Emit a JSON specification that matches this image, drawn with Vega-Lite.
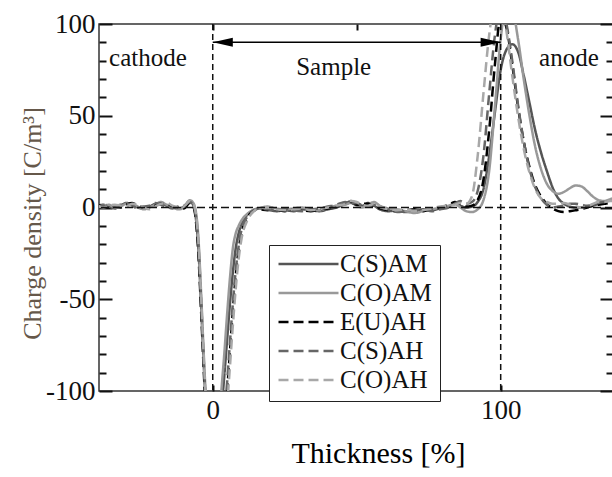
{
  "$schema": "https://vega.github.io/schema/vega-lite/v6.json",
  "width": 514,
  "height": 367,
  "autosize": {"type": "none"},
  "padding": {"left": 99, "top": 24, "right": 0, "bottom": 86},
  "background": "white",
  "config": {
    "view": {"stroke": "#333", "strokeWidth": 1.5},
    "axis": {"labelFont": "Liberation Serif", "titleFont": "Liberation Serif", "grid": false, "domain": false, "tickColor": "#111", "tickWidth": 2, "labelFontSize": 27, "labelColor": "#111", "titleFontWeight": "normal"}
  },
  "resolve": {"axis": {"x": "independent", "y": "independent"}},
  "layer": [
    {
      "data": {"values": [
{"s":"C(S)AM","x":-40,"y":1},{"s":"C(S)AM","x":-38,"y":1.5},{"s":"C(S)AM","x":-36,"y":0.5},{"s":"C(S)AM","x":-34,"y":-0.5},{"s":"C(S)AM","x":-32,"y":1},{"s":"C(S)AM","x":-30,"y":2.5},{"s":"C(S)AM","x":-28,"y":1.5},{"s":"C(S)AM","x":-26,"y":0},{"s":"C(S)AM","x":-24,"y":-0.5},{"s":"C(S)AM","x":-22,"y":0.5},{"s":"C(S)AM","x":-20,"y":2},{"s":"C(S)AM","x":-18,"y":2.5},{"s":"C(S)AM","x":-16,"y":1},{"s":"C(S)AM","x":-14,"y":0},{"s":"C(S)AM","x":-12,"y":-0.5},{"s":"C(S)AM","x":-10,"y":0.5},{"s":"C(S)AM","x":-8,"y":3.5},{"s":"C(S)AM","x":-7,"y":2},{"s":"C(S)AM","x":-6,"y":-4},{"s":"C(S)AM","x":-5,"y":-22},{"s":"C(S)AM","x":-4,"y":-55},{"s":"C(S)AM","x":-3,"y":-90},{"s":"C(S)AM","x":-2,"y":-120},{"s":"C(S)AM","x":-1,"y":-150},{"s":"C(S)AM","x":0,"y":-150},{"s":"C(S)AM","x":1,"y":-150},{"s":"C(S)AM","x":2,"y":-140},{"s":"C(S)AM","x":3,"y":-112},{"s":"C(S)AM","x":4,"y":-92},{"s":"C(S)AM","x":5,"y":-72},{"s":"C(S)AM","x":6,"y":-52},{"s":"C(S)AM","x":7,"y":-35},{"s":"C(S)AM","x":8,"y":-22},{"s":"C(S)AM","x":9,"y":-14},{"s":"C(S)AM","x":10,"y":-9},{"s":"C(S)AM","x":12,"y":-4},{"s":"C(S)AM","x":14,"y":-1.5},{"s":"C(S)AM","x":16,"y":-0.5},{"s":"C(S)AM","x":19,"y":-1},{"s":"C(S)AM","x":22,"y":-2},{"s":"C(S)AM","x":25,"y":-1.5},{"s":"C(S)AM","x":28,"y":-2},{"s":"C(S)AM","x":31,"y":-1},{"s":"C(S)AM","x":34,"y":-1.5},{"s":"C(S)AM","x":37,"y":-2},{"s":"C(S)AM","x":40,"y":-1},{"s":"C(S)AM","x":43,"y":0},{"s":"C(S)AM","x":46,"y":2},{"s":"C(S)AM","x":48,"y":3.5},{"s":"C(S)AM","x":50,"y":2},{"s":"C(S)AM","x":52,"y":1},{"s":"C(S)AM","x":54,"y":2.5},{"s":"C(S)AM","x":56,"y":1},{"s":"C(S)AM","x":58,"y":-1},{"s":"C(S)AM","x":61,"y":-2},{"s":"C(S)AM","x":64,"y":-1.5},{"s":"C(S)AM","x":67,"y":-2.5},{"s":"C(S)AM","x":70,"y":-2},{"s":"C(S)AM","x":73,"y":-1},{"s":"C(S)AM","x":76,"y":-1.5},{"s":"C(S)AM","x":79,"y":-0.5},{"s":"C(S)AM","x":82,"y":0.5},{"s":"C(S)AM","x":84,"y":2.5},{"s":"C(S)AM","x":86,"y":1},{"s":"C(S)AM","x":88,"y":0},{"s":"C(S)AM","x":90,"y":0.5},{"s":"C(S)AM","x":92,"y":3},{"s":"C(S)AM","x":94,"y":10},{"s":"C(S)AM","x":96,"y":28},{"s":"C(S)AM","x":98,"y":52},{"s":"C(S)AM","x":100,"y":75},{"s":"C(S)AM","x":102,"y":86},{"s":"C(S)AM","x":104,"y":89},{"s":"C(S)AM","x":106,"y":85},{"s":"C(S)AM","x":108,"y":72},{"s":"C(S)AM","x":110,"y":57},{"s":"C(S)AM","x":112,"y":42},{"s":"C(S)AM","x":114,"y":30},{"s":"C(S)AM","x":116,"y":20},{"s":"C(S)AM","x":118,"y":11},{"s":"C(S)AM","x":120,"y":5},{"s":"C(S)AM","x":122,"y":2},{"s":"C(S)AM","x":124,"y":0.5},{"s":"C(S)AM","x":126,"y":0},{"s":"C(S)AM","x":128,"y":0},{"s":"C(S)AM","x":130,"y":0.5},{"s":"C(S)AM","x":132,"y":1},{"s":"C(S)AM","x":134,"y":2},{"s":"C(S)AM","x":136,"y":3},{"s":"C(S)AM","x":138,"y":4},{"s":"C(S)AM","x":139,"y":4},
{"s":"C(O)AM","x":-40,"y":0.5},{"s":"C(O)AM","x":-38,"y":1},{"s":"C(O)AM","x":-36,"y":1.5},{"s":"C(O)AM","x":-34,"y":0},{"s":"C(O)AM","x":-32,"y":0.5},{"s":"C(O)AM","x":-30,"y":2},{"s":"C(O)AM","x":-28,"y":2},{"s":"C(O)AM","x":-26,"y":0.5},{"s":"C(O)AM","x":-24,"y":-1},{"s":"C(O)AM","x":-22,"y":0},{"s":"C(O)AM","x":-20,"y":1.5},{"s":"C(O)AM","x":-18,"y":3},{"s":"C(O)AM","x":-16,"y":1.5},{"s":"C(O)AM","x":-14,"y":0.5},{"s":"C(O)AM","x":-12,"y":-1},{"s":"C(O)AM","x":-10,"y":0},{"s":"C(O)AM","x":-8,"y":4},{"s":"C(O)AM","x":-7,"y":3},{"s":"C(O)AM","x":-6,"y":-1},{"s":"C(O)AM","x":-5,"y":-16},{"s":"C(O)AM","x":-4,"y":-48},{"s":"C(O)AM","x":-3,"y":-84},{"s":"C(O)AM","x":-2,"y":-115},{"s":"C(O)AM","x":-1,"y":-148},{"s":"C(O)AM","x":0,"y":-150},{"s":"C(O)AM","x":1,"y":-150},{"s":"C(O)AM","x":2,"y":-125},{"s":"C(O)AM","x":3,"y":-100},{"s":"C(O)AM","x":4,"y":-80},{"s":"C(O)AM","x":5,"y":-58},{"s":"C(O)AM","x":6,"y":-38},{"s":"C(O)AM","x":7,"y":-22},{"s":"C(O)AM","x":8,"y":-14},{"s":"C(O)AM","x":9,"y":-10},{"s":"C(O)AM","x":10,"y":-7},{"s":"C(O)AM","x":12,"y":-3.5},{"s":"C(O)AM","x":14,"y":-1.5},{"s":"C(O)AM","x":16,"y":-0.5},{"s":"C(O)AM","x":19,"y":0.5},{"s":"C(O)AM","x":22,"y":-0.5},{"s":"C(O)AM","x":25,"y":-1},{"s":"C(O)AM","x":28,"y":-0.5},{"s":"C(O)AM","x":31,"y":0},{"s":"C(O)AM","x":34,"y":-1},{"s":"C(O)AM","x":37,"y":-1.5},{"s":"C(O)AM","x":40,"y":0},{"s":"C(O)AM","x":43,"y":1},{"s":"C(O)AM","x":46,"y":1.5},{"s":"C(O)AM","x":48,"y":2.5},{"s":"C(O)AM","x":50,"y":1},{"s":"C(O)AM","x":52,"y":0},{"s":"C(O)AM","x":54,"y":1.5},{"s":"C(O)AM","x":56,"y":3},{"s":"C(O)AM","x":58,"y":1},{"s":"C(O)AM","x":61,"y":-0.5},{"s":"C(O)AM","x":64,"y":-1},{"s":"C(O)AM","x":67,"y":-2},{"s":"C(O)AM","x":70,"y":-3},{"s":"C(O)AM","x":73,"y":-2},{"s":"C(O)AM","x":76,"y":-1},{"s":"C(O)AM","x":79,"y":0},{"s":"C(O)AM","x":82,"y":1},{"s":"C(O)AM","x":84,"y":2},{"s":"C(O)AM","x":86,"y":0},{"s":"C(O)AM","x":88,"y":-2},{"s":"C(O)AM","x":90,"y":-2.5},{"s":"C(O)AM","x":92,"y":-1},{"s":"C(O)AM","x":94,"y":4},{"s":"C(O)AM","x":96,"y":20},{"s":"C(O)AM","x":98,"y":55},{"s":"C(O)AM","x":100,"y":92},{"s":"C(O)AM","x":102,"y":110},{"s":"C(O)AM","x":104,"y":108},{"s":"C(O)AM","x":106,"y":92},{"s":"C(O)AM","x":108,"y":70},{"s":"C(O)AM","x":110,"y":50},{"s":"C(O)AM","x":112,"y":33},{"s":"C(O)AM","x":114,"y":21},{"s":"C(O)AM","x":116,"y":13},{"s":"C(O)AM","x":118,"y":9},{"s":"C(O)AM","x":120,"y":7.5},{"s":"C(O)AM","x":122,"y":8.5},{"s":"C(O)AM","x":124,"y":10.5},{"s":"C(O)AM","x":126,"y":12},{"s":"C(O)AM","x":128,"y":11.5},{"s":"C(O)AM","x":130,"y":9},{"s":"C(O)AM","x":132,"y":6},{"s":"C(O)AM","x":134,"y":4},{"s":"C(O)AM","x":136,"y":3.5},{"s":"C(O)AM","x":138,"y":4.5},{"s":"C(O)AM","x":139,"y":5},
{"s":"E(U)AH","x":-40,"y":1.5},{"s":"E(U)AH","x":-38,"y":0.5},{"s":"E(U)AH","x":-36,"y":1},{"s":"E(U)AH","x":-34,"y":1},{"s":"E(U)AH","x":-32,"y":0},{"s":"E(U)AH","x":-30,"y":1.5},{"s":"E(U)AH","x":-28,"y":2.5},{"s":"E(U)AH","x":-26,"y":1},{"s":"E(U)AH","x":-24,"y":0},{"s":"E(U)AH","x":-22,"y":-0.5},{"s":"E(U)AH","x":-20,"y":1},{"s":"E(U)AH","x":-18,"y":2},{"s":"E(U)AH","x":-16,"y":2},{"s":"E(U)AH","x":-14,"y":0.5},{"s":"E(U)AH","x":-12,"y":0},{"s":"E(U)AH","x":-10,"y":-0.5},{"s":"E(U)AH","x":-8,"y":2.5},{"s":"E(U)AH","x":-7,"y":1.5},{"s":"E(U)AH","x":-6,"y":-5},{"s":"E(U)AH","x":-5,"y":-25},{"s":"E(U)AH","x":-4,"y":-58},{"s":"E(U)AH","x":-3,"y":-93},{"s":"E(U)AH","x":-2,"y":-125},{"s":"E(U)AH","x":-1,"y":-150},{"s":"E(U)AH","x":0,"y":-150},{"s":"E(U)AH","x":1,"y":-150},{"s":"E(U)AH","x":2,"y":-150},{"s":"E(U)AH","x":3,"y":-140},{"s":"E(U)AH","x":4,"y":-120},{"s":"E(U)AH","x":5,"y":-100},{"s":"E(U)AH","x":6,"y":-78},{"s":"E(U)AH","x":7,"y":-56},{"s":"E(U)AH","x":8,"y":-37},{"s":"E(U)AH","x":9,"y":-23},{"s":"E(U)AH","x":10,"y":-14},{"s":"E(U)AH","x":12,"y":-5.5},{"s":"E(U)AH","x":14,"y":-2},{"s":"E(U)AH","x":16,"y":-1},{"s":"E(U)AH","x":19,"y":-1.5},{"s":"E(U)AH","x":22,"y":-1},{"s":"E(U)AH","x":25,"y":-2},{"s":"E(U)AH","x":28,"y":-1},{"s":"E(U)AH","x":31,"y":-1.5},{"s":"E(U)AH","x":34,"y":-2},{"s":"E(U)AH","x":37,"y":-1},{"s":"E(U)AH","x":40,"y":-0.5},{"s":"E(U)AH","x":43,"y":0.5},{"s":"E(U)AH","x":46,"y":2.5},{"s":"E(U)AH","x":48,"y":3},{"s":"E(U)AH","x":50,"y":1.5},{"s":"E(U)AH","x":52,"y":2},{"s":"E(U)AH","x":54,"y":2},{"s":"E(U)AH","x":56,"y":0.5},{"s":"E(U)AH","x":58,"y":-0.5},{"s":"E(U)AH","x":61,"y":-1.5},{"s":"E(U)AH","x":64,"y":-2},{"s":"E(U)AH","x":67,"y":-1.5},{"s":"E(U)AH","x":70,"y":-1},{"s":"E(U)AH","x":73,"y":-2},{"s":"E(U)AH","x":76,"y":-1},{"s":"E(U)AH","x":79,"y":0},{"s":"E(U)AH","x":82,"y":1.5},{"s":"E(U)AH","x":84,"y":3},{"s":"E(U)AH","x":86,"y":2},{"s":"E(U)AH","x":88,"y":0.5},{"s":"E(U)AH","x":90,"y":1},{"s":"E(U)AH","x":92,"y":4},{"s":"E(U)AH","x":94,"y":15},{"s":"E(U)AH","x":96,"y":42},{"s":"E(U)AH","x":98,"y":78},{"s":"E(U)AH","x":100,"y":104},{"s":"E(U)AH","x":102,"y":98},{"s":"E(U)AH","x":104,"y":78},{"s":"E(U)AH","x":106,"y":55},{"s":"E(U)AH","x":108,"y":36},{"s":"E(U)AH","x":110,"y":22},{"s":"E(U)AH","x":112,"y":12},{"s":"E(U)AH","x":114,"y":6},{"s":"E(U)AH","x":116,"y":2},{"s":"E(U)AH","x":118,"y":-0.5},{"s":"E(U)AH","x":120,"y":-2},{"s":"E(U)AH","x":122,"y":-2.5},{"s":"E(U)AH","x":124,"y":-2},{"s":"E(U)AH","x":126,"y":-1.5},{"s":"E(U)AH","x":128,"y":-1},{"s":"E(U)AH","x":130,"y":0},{"s":"E(U)AH","x":132,"y":1},{"s":"E(U)AH","x":134,"y":1.5},{"s":"E(U)AH","x":136,"y":2},{"s":"E(U)AH","x":138,"y":2.5},{"s":"E(U)AH","x":139,"y":2.5},
{"s":"C(S)AH","x":-40,"y":0.5},{"s":"C(S)AH","x":-38,"y":1},{"s":"C(S)AH","x":-36,"y":0},{"s":"C(S)AH","x":-34,"y":0.5},{"s":"C(S)AH","x":-32,"y":1.5},{"s":"C(S)AH","x":-30,"y":2},{"s":"C(S)AH","x":-28,"y":1},{"s":"C(S)AH","x":-26,"y":-0.5},{"s":"C(S)AH","x":-24,"y":0.5},{"s":"C(S)AH","x":-22,"y":1},{"s":"C(S)AH","x":-20,"y":2.5},{"s":"C(S)AH","x":-18,"y":1.5},{"s":"C(S)AH","x":-16,"y":0.5},{"s":"C(S)AH","x":-14,"y":-0.5},{"s":"C(S)AH","x":-12,"y":0.5},{"s":"C(S)AH","x":-10,"y":1},{"s":"C(S)AH","x":-8,"y":3},{"s":"C(S)AH","x":-7,"y":2},{"s":"C(S)AH","x":-6,"y":-3},{"s":"C(S)AH","x":-5,"y":-20},{"s":"C(S)AH","x":-4,"y":-52},{"s":"C(S)AH","x":-3,"y":-88},{"s":"C(S)AH","x":-2,"y":-118},{"s":"C(S)AH","x":-1,"y":-150},{"s":"C(S)AH","x":0,"y":-150},{"s":"C(S)AH","x":1,"y":-150},{"s":"C(S)AH","x":2,"y":-145},{"s":"C(S)AH","x":3,"y":-132},{"s":"C(S)AH","x":4,"y":-115},{"s":"C(S)AH","x":5,"y":-95},{"s":"C(S)AH","x":6,"y":-73},{"s":"C(S)AH","x":7,"y":-52},{"s":"C(S)AH","x":8,"y":-34},{"s":"C(S)AH","x":9,"y":-21},{"s":"C(S)AH","x":10,"y":-12},{"s":"C(S)AH","x":12,"y":-5},{"s":"C(S)AH","x":14,"y":-2},{"s":"C(S)AH","x":16,"y":-0.5},{"s":"C(S)AH","x":19,"y":-1},{"s":"C(S)AH","x":22,"y":-1.5},{"s":"C(S)AH","x":25,"y":-0.5},{"s":"C(S)AH","x":28,"y":-1.5},{"s":"C(S)AH","x":31,"y":-2},{"s":"C(S)AH","x":34,"y":-1},{"s":"C(S)AH","x":37,"y":-0.5},{"s":"C(S)AH","x":40,"y":0.5},{"s":"C(S)AH","x":43,"y":1.5},{"s":"C(S)AH","x":46,"y":3},{"s":"C(S)AH","x":48,"y":2},{"s":"C(S)AH","x":50,"y":2.5},{"s":"C(S)AH","x":52,"y":1},{"s":"C(S)AH","x":54,"y":0.5},{"s":"C(S)AH","x":56,"y":1.5},{"s":"C(S)AH","x":58,"y":0},{"s":"C(S)AH","x":61,"y":-1},{"s":"C(S)AH","x":64,"y":-2.5},{"s":"C(S)AH","x":67,"y":-2},{"s":"C(S)AH","x":70,"y":-1.5},{"s":"C(S)AH","x":73,"y":-1},{"s":"C(S)AH","x":76,"y":-2},{"s":"C(S)AH","x":79,"y":-1},{"s":"C(S)AH","x":82,"y":0},{"s":"C(S)AH","x":84,"y":2},{"s":"C(S)AH","x":86,"y":3.5},{"s":"C(S)AH","x":88,"y":2},{"s":"C(S)AH","x":90,"y":3},{"s":"C(S)AH","x":92,"y":9},{"s":"C(S)AH","x":94,"y":28},{"s":"C(S)AH","x":96,"y":62},{"s":"C(S)AH","x":98,"y":94},{"s":"C(S)AH","x":100,"y":110},{"s":"C(S)AH","x":102,"y":100},{"s":"C(S)AH","x":104,"y":80},{"s":"C(S)AH","x":106,"y":56},{"s":"C(S)AH","x":108,"y":36},{"s":"C(S)AH","x":110,"y":21},{"s":"C(S)AH","x":112,"y":11},{"s":"C(S)AH","x":114,"y":5},{"s":"C(S)AH","x":116,"y":1.5},{"s":"C(S)AH","x":118,"y":0},{"s":"C(S)AH","x":120,"y":0.5},{"s":"C(S)AH","x":122,"y":1},{"s":"C(S)AH","x":124,"y":2},{"s":"C(S)AH","x":126,"y":2},{"s":"C(S)AH","x":128,"y":1.5},{"s":"C(S)AH","x":130,"y":1},{"s":"C(S)AH","x":132,"y":1.5},{"s":"C(S)AH","x":134,"y":2.5},{"s":"C(S)AH","x":136,"y":3},{"s":"C(S)AH","x":138,"y":3.5},{"s":"C(S)AH","x":139,"y":3.5},
{"s":"C(O)AH","x":-40,"y":1},{"s":"C(O)AH","x":-38,"y":0},{"s":"C(O)AH","x":-36,"y":1},{"s":"C(O)AH","x":-34,"y":1.5},{"s":"C(O)AH","x":-32,"y":1},{"s":"C(O)AH","x":-30,"y":0.5},{"s":"C(O)AH","x":-28,"y":2},{"s":"C(O)AH","x":-26,"y":1.5},{"s":"C(O)AH","x":-24,"y":0},{"s":"C(O)AH","x":-22,"y":-1},{"s":"C(O)AH","x":-20,"y":0.5},{"s":"C(O)AH","x":-18,"y":2},{"s":"C(O)AH","x":-16,"y":2.5},{"s":"C(O)AH","x":-14,"y":1},{"s":"C(O)AH","x":-12,"y":0},{"s":"C(O)AH","x":-10,"y":0.5},{"s":"C(O)AH","x":-8,"y":3.5},{"s":"C(O)AH","x":-7,"y":2.5},{"s":"C(O)AH","x":-6,"y":-2},{"s":"C(O)AH","x":-5,"y":-18},{"s":"C(O)AH","x":-4,"y":-50},{"s":"C(O)AH","x":-3,"y":-86},{"s":"C(O)AH","x":-2,"y":-116},{"s":"C(O)AH","x":-1,"y":-148},{"s":"C(O)AH","x":0,"y":-150},{"s":"C(O)AH","x":1,"y":-150},{"s":"C(O)AH","x":2,"y":-150},{"s":"C(O)AH","x":3,"y":-145},{"s":"C(O)AH","x":4,"y":-128},{"s":"C(O)AH","x":5,"y":-108},{"s":"C(O)AH","x":6,"y":-86},{"s":"C(O)AH","x":7,"y":-64},{"s":"C(O)AH","x":8,"y":-44},{"s":"C(O)AH","x":9,"y":-28},{"s":"C(O)AH","x":10,"y":-17},{"s":"C(O)AH","x":12,"y":-7},{"s":"C(O)AH","x":14,"y":-2.5},{"s":"C(O)AH","x":16,"y":-0.5},{"s":"C(O)AH","x":19,"y":0},{"s":"C(O)AH","x":22,"y":-1},{"s":"C(O)AH","x":25,"y":-1.5},{"s":"C(O)AH","x":28,"y":-1},{"s":"C(O)AH","x":31,"y":-0.5},{"s":"C(O)AH","x":34,"y":-1.5},{"s":"C(O)AH","x":37,"y":-1},{"s":"C(O)AH","x":40,"y":0},{"s":"C(O)AH","x":43,"y":1},{"s":"C(O)AH","x":46,"y":2},{"s":"C(O)AH","x":48,"y":3.5},{"s":"C(O)AH","x":50,"y":3},{"s":"C(O)AH","x":52,"y":1.5},{"s":"C(O)AH","x":54,"y":1},{"s":"C(O)AH","x":56,"y":2},{"s":"C(O)AH","x":58,"y":0.5},{"s":"C(O)AH","x":61,"y":-1},{"s":"C(O)AH","x":64,"y":-1.5},{"s":"C(O)AH","x":67,"y":-1},{"s":"C(O)AH","x":70,"y":-2},{"s":"C(O)AH","x":73,"y":-1.5},{"s":"C(O)AH","x":76,"y":-0.5},{"s":"C(O)AH","x":79,"y":0.5},{"s":"C(O)AH","x":82,"y":1},{"s":"C(O)AH","x":84,"y":1.5},{"s":"C(O)AH","x":86,"y":2.5},{"s":"C(O)AH","x":88,"y":2},{"s":"C(O)AH","x":90,"y":6},{"s":"C(O)AH","x":92,"y":28},{"s":"C(O)AH","x":94,"y":62},{"s":"C(O)AH","x":96,"y":94},{"s":"C(O)AH","x":98,"y":112},{"s":"C(O)AH","x":100,"y":112},{"s":"C(O)AH","x":102,"y":96},{"s":"C(O)AH","x":104,"y":72},{"s":"C(O)AH","x":106,"y":50},{"s":"C(O)AH","x":108,"y":32},{"s":"C(O)AH","x":110,"y":19},{"s":"C(O)AH","x":112,"y":10},{"s":"C(O)AH","x":114,"y":5},{"s":"C(O)AH","x":116,"y":3},{"s":"C(O)AH","x":118,"y":2},{"s":"C(O)AH","x":120,"y":2},{"s":"C(O)AH","x":122,"y":2.5},{"s":"C(O)AH","x":124,"y":1.5},{"s":"C(O)AH","x":126,"y":0.5},{"s":"C(O)AH","x":128,"y":0},{"s":"C(O)AH","x":130,"y":0.5},{"s":"C(O)AH","x":132,"y":2},{"s":"C(O)AH","x":134,"y":3},{"s":"C(O)AH","x":136,"y":3},{"s":"C(O)AH","x":138,"y":3.5},{"s":"C(O)AH","x":139,"y":3.5}
      ]},
      "mark": {"type": "line", "clip": true, "strokeWidth": 2.5, "interpolate": "monotone"},
      "encoding": {
        "x": {"field": "x", "type": "quantitative", "scale": {"domain": [-39.5, 139], "nice": false, "zero": false},
          "axis": {"orient": "bottom", "values": [0, 50, 100], "ticks": true, "tickSize": -6, "tickColor": "#111", "labelPadding": 12, "labelExpr": "datum.value === 50 ? '' : datum.label", "title": "Thickness [%]", "titleFont": "Liberation Serif", "titleFontSize": 30, "titleColor": "#000", "titleX": 279, "titleY": 71, "titleBaseline": "alphabetic", "titleAlign": "center", "titleAnchor": null}},
        "y": {"field": "y", "type": "quantitative", "scale": {"domain": [-100, 100], "nice": false, "zero": false},
          "axis": {"orient": "left", "values": [-100, -90, -80, -70, -60, -50, -40, -30, -20, -10, 0, 10, 20, 30, 40, 50, 60, 70, 80, 90, 100], "ticks": true, "tickColor": "#111", "tickSize": {"condition": {"test": "datum.value % 50 === 0", "value": -13}, "value": -7}, "labelPadding": {"condition": {"test": "datum.value % 50 === 0", "value": 17}, "value": 11}, "labelExpr": "datum.value % 50 !== 0 ? '' : (datum.value < 0 ? '-' + (-datum.value) : '' + datum.value)", "title": "Charge density [C/m³]", "titleFont": "Liberation Serif", "titleFontSize": 26, "titleColor": "#66584a", "titleX": -67, "titleY": 199, "titleAngle": -90, "titleBaseline": "middle", "titleAlign": "center", "titleAnchor": null}},
        "color": {"field": "s", "type": "nominal", "scale": {"domain": ["C(S)AM", "C(O)AM", "E(U)AH", "C(S)AH", "C(O)AH"], "range": ["#555555", "#999999", "#000000", "#666666", "#a8a8a8"]},
          "legend": {"orient": "none", "legendX": 170, "legendY": 221, "title": null, "symbolType": "stroke", "symbolSize": 3600, "symbolStrokeWidth": 2.5, "labelFont": "Liberation Serif", "labelFontSize": 25, "labelColor": "#111", "strokeColor": "#222", "fillColor": "white", "padding": 8, "rowPadding": 4, "clipHeight": 22, "labelOffset": 0, "symbolOffset": 0}},
        "strokeDash": {"field": "s", "type": "nominal", "scale": {"domain": ["C(S)AM", "C(O)AM", "E(U)AH", "C(S)AH", "C(O)AH"], "range": [[1, 0], [1, 0], [10, 5], [10, 5], [10, 5]]},
          "legend": {"orient": "none", "legendX": 170, "legendY": 221, "title": null, "symbolType": "stroke", "symbolSize": 3600, "symbolStrokeWidth": 2.5, "labelFont": "Liberation Serif", "labelFontSize": 25, "labelColor": "#111", "strokeColor": "#222", "fillColor": "white", "padding": 8, "rowPadding": 4, "clipHeight": 22, "labelOffset": 0, "symbolOffset": 0}}
      }
    },
    {
      "data": {"values": [{"x": 0}, {"x": 100}]},
      "mark": {"type": "rule", "color": "#111", "strokeWidth": 1.5, "strokeDash": [6, 4]},
      "encoding": {
        "x": {"field": "x", "type": "quantitative", "axis": {"orient": "top", "values": [0, 50, 100], "ticks": true, "tickColor": "#111", "tickSize": -6, "labels": false, "title": null}}
      }
    },
    {
      "data": {"values": [{"y": 0}]},
      "mark": {"type": "rule", "color": "#111", "strokeWidth": 1.5, "strokeDash": [8, 4]},
      "encoding": {
        "y": {"field": "y", "type": "quantitative", "axis": {"orient": "right", "values": [-100, -90, -80, -70, -60, -50, -40, -30, -20, -10, 0, 10, 20, 30, 40, 50, 60, 70, 80, 90, 100], "ticks": true, "tickColor": "#111", "tickSize": {"condition": {"test": "datum.value % 50 === 0", "value": -13}, "value": -7}, "labels": false, "title": null}}
      }
    },
    {
      "data": {"values": [{"x": 0, "x2": 100, "y": 90}]},
      "mark": {"type": "rule", "color": "#000", "strokeWidth": 1.5},
      "encoding": {
        "x": {"field": "x", "type": "quantitative", "axis": null},
        "x2": {"field": "x2"},
        "y": {"field": "y", "type": "quantitative", "axis": null}
      }
    },
    {
      "data": {"values": [{"x": 3.5, "y": 90, "dir": "left"}, {"x": 96.5, "y": 90, "dir": "right"}]},
      "mark": {"type": "point", "filled": true, "color": "#000", "opacity": 1, "size": 400},
      "encoding": {
        "x": {"field": "x", "type": "quantitative", "axis": null},
        "y": {"field": "y", "type": "quantitative", "axis": null},
        "shape": {"field": "dir", "type": "nominal", "scale": {"domain": ["left", "right"], "range": ["M -1 0 L 1 -0.45 L 1 0.45 Z", "M 1 0 L -1 -0.45 L -1 0.45 Z"]}, "legend": null}
      }
    },
    {
      "data": {"values": [{"x": -22.5, "y": 77, "t": "cathode"}, {"x": 42, "y": 72, "t": "Sample"}, {"x": 123.7, "y": 77, "t": "anode"}]},
      "mark": {"type": "text", "fontSize": 25, "font": "Liberation Serif", "color": "#111", "align": "center", "baseline": "alphabetic"},
      "encoding": {
        "x": {"field": "x", "type": "quantitative", "axis": null},
        "y": {"field": "y", "type": "quantitative", "axis": null},
        "text": {"field": "t"}
      }
    }
  ]
}
